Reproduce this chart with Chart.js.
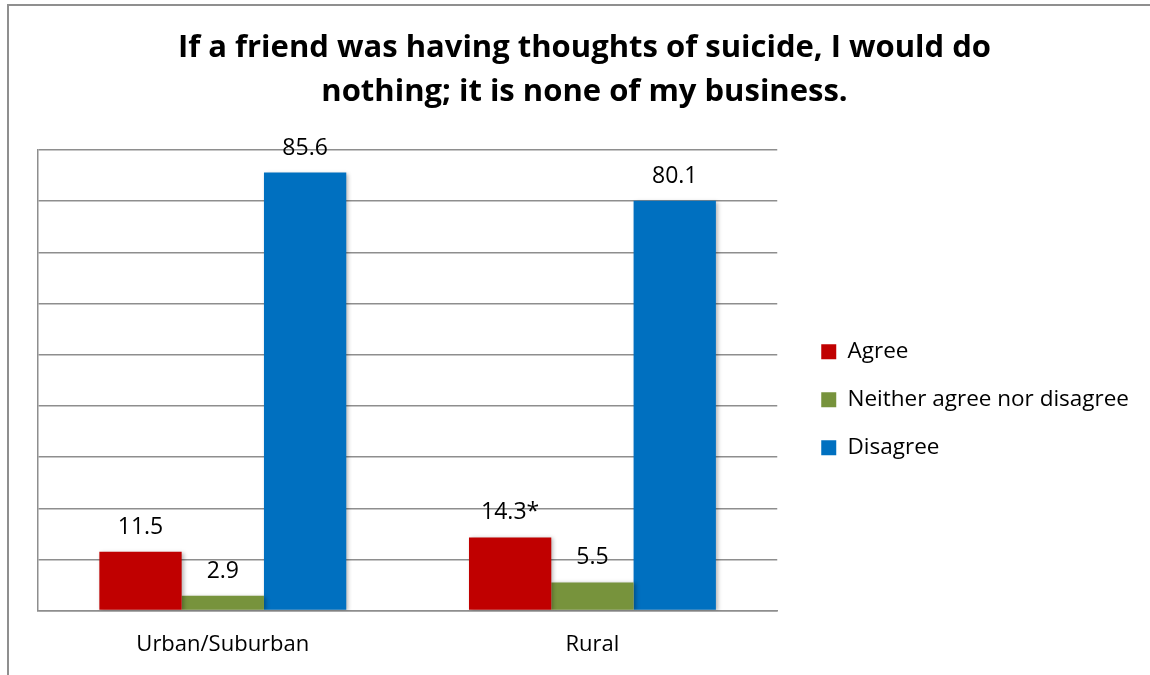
<!DOCTYPE html>
<html>
<head>
<meta charset="utf-8">
<script src="https://cdn.jsdelivr.net/npm/chart.js@4.4.1/dist/chart.umd.min.js"></script>
<style>
  html, body { margin:0; padding:0; background:#fff; overflow:hidden; }
  #frame { position:absolute; left:7px; top:4px; width:1200px; height:720px; border:2px solid #8f8f8f; }
  #chart { position:absolute; left:0; top:0; }
</style>
</head>
<body>
<div id="frame"></div>
<canvas id="chart" width="1150" height="675"></canvas>
<script>
// Data
const categories = ['Urban/Suburban', 'Rural'];
const seriesNames = ['Agree', 'Neither agree nor disagree', 'Disagree'];
const agree    = [11.5, 14.3];
const neither  = [2.9, 5.5];
const disagree = [85.6, 80.1];
const agreeNotes = ['', '*'];
const yMax = 90, yStep = 10;

const FONT = 'Open Sans';

// value labels above each bar
const barLabels = {
  id: 'barLabels',
  afterDatasetsDraw(chart) {
    const ctx = chart.ctx;
    ctx.save();
    ctx.font = '23px ' + FONT;
    ctx.fillStyle = '#000';
    ctx.textAlign = 'center';
    ctx.textBaseline = 'alphabetic';
    chart.data.datasets.forEach((ds, di) => {
      chart.getDatasetMeta(di).data.forEach((bar, i) => {
        const note = ds.notes ? ds.notes[i] : '';
        ctx.fillText(ds.data[i].toFixed(1) + note, bar.x, bar.y - 18);
      });
    });
    ctx.restore();
  }
};

// soft shadow under the bars
const barShadow = {
  id: 'barShadow',
  beforeDatasetsDraw(chart) {
    const ctx = chart.ctx;
    ctx.save();
    ctx.shadowColor = 'rgba(0,0,0,0.28)';
    ctx.shadowBlur = 4;
    ctx.shadowOffsetX = 2;
    ctx.shadowOffsetY = 1;
  },
  afterDatasetsDraw(chart) { chart.ctx.restore(); }
};

new Chart(document.getElementById('chart'), {
  type: 'bar',
  data: {
    labels: categories,
    datasets: [
      { label: seriesNames[0], data: agree, notes: agreeNotes, backgroundColor: '#C00000' },
      { label: seriesNames[1], data: neither, backgroundColor: '#77933C' },
      { label: seriesNames[2], data: disagree, backgroundColor: '#0070C0' }
    ]
  },
  options: {
    responsive: false,
    animation: false,
    categoryPercentage: 0.668,
    barPercentage: 1,
    layout: { padding: { left: 30, right: 11, top: 0, bottom: -4 } },
    plugins: {
      title: {
        display: true,
        text: ['If a friend was having thoughts of suicide, I would do', 'nothing; it is none of my business.'],
        color: '#000',
        font: { family: FONT, size: 31, weight: 'bold', lineHeight: 1.42 },
        padding: { top: 26, bottom: 36 }
      },
      legend: {
        position: 'right',
        fullSize: false,
        maxWidth: 420,
        labels: {
          font: { family: FONT, size: 22.5 },
          color: '#000',
          boxWidth: 15,
          boxHeight: 15,
          padding: 25.5
        },
        title: { display: true, text: '', font: { size: 10, lineHeight: 1 }, padding: { top: 29, bottom: 0 } }
      },
      tooltip: { enabled: false }
    },
    scales: {
      x: {
        grid: { display: false, drawTicks: false },
        border: { display: true, color: '#8e8e8e', width: 1.5 },
        ticks: { font: { family: FONT, size: 22 }, color: '#000', padding: 21 }
      },
      y: {
        min: 0, max: yMax,
        ticks: { display: false, stepSize: yStep },
        grid: { color: '#8e8e8e', lineWidth: 1.5, tickLength: 8, tickColor: 'transparent' },
        border: { display: true, color: '#8e8e8e', width: 1.5 }
      },
      y2: {
        position: 'right',
        ticks: { display: false },
        grid: { drawOnChartArea: false, tickLength: 18.5, tickColor: 'transparent' },
        border: { display: false }
      }
    }
  },
  plugins: [barShadow, barLabels]
});
</script>
</body>
</html>
